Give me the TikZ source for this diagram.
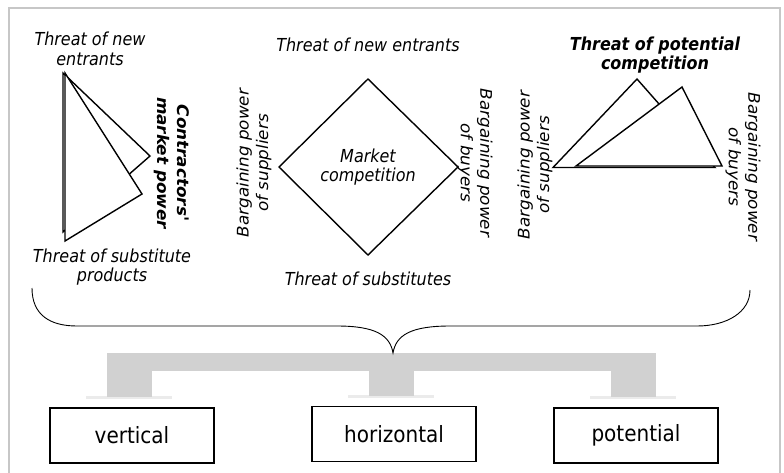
\documentclass[tikz,border=0pt]{standalone}
\usepackage{fontspec}
\setmainfont{DejaVu Sans}
\newfontfamily\tallfont[FakeStretch=0.893]{DejaVu Sans}
\newfontfamily\widefont[FakeStretch=1.05]{DejaVu Sans}
\usetikzlibrary{calc}

\begin{document}
\begin{tikzpicture}[x=1pt,y=-1pt,
    lbl/.style={font=\tallfont\fontsize{17.9}{19.5}\selectfont\itshape, align=center, inner sep=0pt},
    blbl/.style={lbl, font=\tallfont\fontsize{17.9}{19.5}\selectfont\bfseries\itshape},
    rlbl/.style={lbl, font=\widefont\fontsize{16}{19.5}\selectfont\itshape},
    brlbl/.style={lbl, font=\widefont\fontsize{16}{19.5}\selectfont\bfseries\itshape},
    tri/.style={draw, fill=white, line width=1.4pt},
    kind/.style={draw, line width=1.4pt, minimum width=164pt, minimum height=55pt, font=\tallfont\fontsize{22.4}{24}\selectfont},
    band/.style={fill=black!18}]
  \useasboundingbox (0,0) rectangle (784,472);
  % frame
  \draw[black!22, line width=2.5pt] (9,480) |- (780,8) -- (780,480);

  % vertical: two triangles
  \draw[tri] (63,73) -- (150,156) -- (63,232) -- cycle;
  \draw[tri] (65,73) coordinate (lt) -- (142,194) coordinate (lr) -- (65,241) coordinate (lb) -- cycle;
  \node[lbl] (lnew) at (90,49) {Threat of new\\entrants};
  \node[lbl] (lsub) at (112,267) {Threat of substitute\\products};
  \node[brlbl, rotate=-90] (lpow) at (172,163) {Contractors'\\market power};

  % horizontal: diamond
  \draw[tri] (368,79) coordinate (dt) -- (458,167) coordinate (dr) -- (368,255) coordinate (db) -- (279,167) coordinate (dl) -- cycle;
  \node[lbl] (mcomp) at (368,167) {Market\\competition};
  \node[lbl] (mnew) at (368,45) {Threat of new entrants};
  \node[lbl] (msub) at (368,279) {Threat of substitutes};
  \node[rlbl, rotate=90] (msupp) at (254,163) {Bargaining power\\of suppliers};
  \node[rlbl, rotate=-90] (mbuy) at (475,163) {Bargaining power\\of buyers};

  % potential: two triangles
  \draw[tri] (637,79) -- (715,167.5) -- (553,167.5) -- cycle;
  \draw[tri] (682,87) -- (722,166) -- (576,166) -- cycle;
  \node[blbl] (rpot) at (655,55) {Threat of potential\\competition};
  \node[rlbl, rotate=90] (rsupp) at (535,165) {Bargaining power\\of suppliers};
  \node[rlbl, rotate=-90] (rbuy) at (743,167) {Bargaining power\\of buyers};

  % the three kinds
  \node[kind] (vert) at (132,435.5) {vertical};
  \node[kind] (horiz) at (394,434) {horizontal};
  \node[kind] (pot) at (636,435.5) {potential};

  % gray band from the brace to the boxes
  \coordinate (bt) at (393,353);
  \fill[band] ($(vert.north|-bt)+(-25,0)$) rectangle ($(pot.north|-bt)+(20,18)$);
  \foreach \b in {vert,horiz,pot} {
    \fill[black!8] ($(\b.north)+(-46,-8)$) rectangle ($(\b.north)+(40,-11)$);
    \fill[band] ($(\b.north)+(-25,-10)$) rectangle ($(\b.north|-bt)+(20,0)$);
  }

  % brace
  \draw[line width=0.9pt] (32,288) coordinate (bl) .. controls (32,315) and (50,326) .. (77,326)
    -- (337,326) .. controls (375,326) and (390,335) .. (bt)
    .. controls (396,335) and (411,326) .. (450,326)
    -- (697,326) .. controls (727,326) and (750,312) .. (750,290) coordinate (br);
\end{tikzpicture}
\end{document}
